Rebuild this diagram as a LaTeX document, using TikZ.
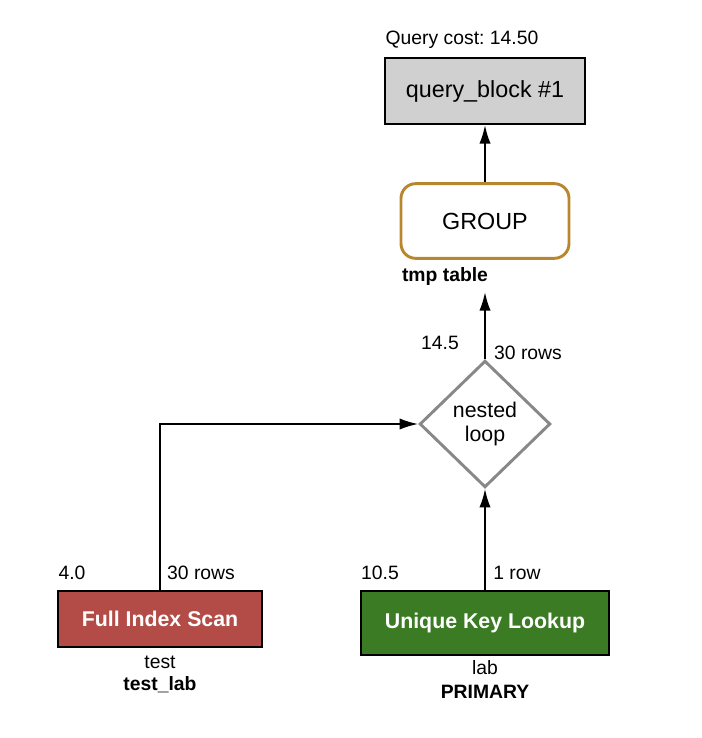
\documentclass[tikz,border=0pt]{standalone}
\usepackage{fontspec}
\setmainfont{Liberation Sans}
\usepackage{tikz}
\usetikzlibrary{arrows.meta, positioning, shapes.geometric}
\definecolor{BlockGray}{RGB}{208, 208, 208}
\definecolor{GroupGold}{RGB}{185, 134, 48}
\definecolor{LoopGray}{RGB}{136, 136, 136}
\definecolor{ScanRed}{RGB}{179, 75, 71}
\definecolor{LookupGreen}{RGB}{58, 123, 35}
\frenchspacing

\begin{document}
\begin{tikzpicture}[x=0.75pt, y=-0.75pt,
        lbl/.style={font=\fontsize{14.5}{16}\selectfont, inner sep=0pt},
        flow/.style={-{Latex[length=14pt, width=8.5pt]}, line width=1.5pt},
        opbox/.style={draw, line width=1.5pt, text=white, font=\fontsize{16}{18}\selectfont\bfseries}]
        \useasboundingbox (0,0) rectangle (702,738);

        \node[draw, line width=1.5pt, fill=BlockGray, minimum width=150pt, minimum height=49.5pt,
              font=\fontsize{17.5}{20}\selectfont] (qb) at (485,91) {query\_block \#1};
        \node[lbl] (cost) at (462,40) {Query cost: 14.50};

        \node[draw=GroupGold, line width=2.2pt, rounded corners=11pt, minimum width=126pt, minimum height=56pt,
              font=\fontsize{17.5}{20}\selectfont] (grp) at (485,221) {GROUP};
        \node[lbl, font=\fontsize{14.5}{16}\selectfont\bfseries] (tmp) at (445,276) {tmp table};
        \coordinate (grpin) at (485,292);

        \node[draw=LoopGray, line width=2.2pt, diamond, minimum width=98pt, minimum height=95pt, inner sep=0pt,
              align=center, font=\fontsize{16}{17.5}\selectfont] (loop) at (485,424) {nested\\loop};
        \node[lbl] (loopcost) at (440,343) {14.5};
        \node[lbl] (looprows) at (528,353) {30 rows};

        \node[opbox, fill=ScanRed, minimum width=153pt, minimum height=42pt] (fis) at (160,619) {Full Index Scan};
        \node[lbl] (fiscost) at (72,573) {4.0};
        \node[lbl] (fisrows) at (201,573) {30 rows};
        \node[lbl] (fistab) at (160,662) {test};
        \node[lbl, font=\fontsize{14.5}{16}\selectfont\bfseries] (fiskey) at (160,685) {test\_lab};

        \node[opbox, fill=LookupGreen, minimum width=186pt, minimum height=48pt] (ukl) at (485,623) {Unique Key Lookup};
        \node[lbl] (uklcost) at (380,573) {10.5};
        \node[lbl] (uklrows) at (517,573) {1 row};
        \node[lbl] (ukltab) at (485,668) {lab};
        \node[lbl, font=\fontsize{14.5}{16}\selectfont\bfseries] (uklkey) at (485,692) {PRIMARY};

        \draw[flow] (grp) -- (qb);
        \draw[flow] (loop) -- (grpin);
        \draw[flow] (ukl) -- (loop);
        \draw[flow] (fis.north) |- (loop.west);
    \end{tikzpicture}
\end{document}
